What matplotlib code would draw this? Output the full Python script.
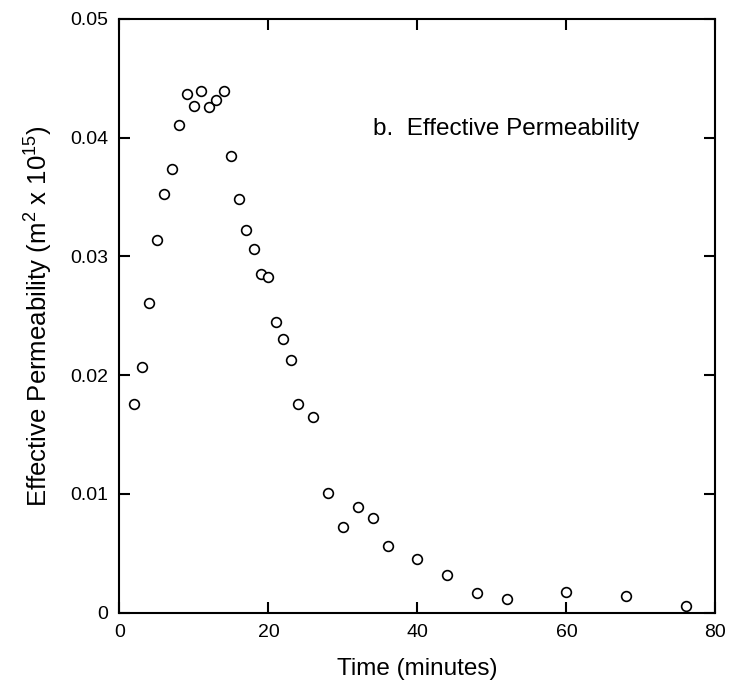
import matplotlib
matplotlib.use("Agg")
import matplotlib.pyplot as plt

plt.rcParams['font.family'] = ['Liberation Sans', 'DejaVu Sans']
plt.rcParams['mathtext.fontset'] = 'custom'
plt.rcParams['mathtext.rm'] = 'Liberation Sans'
plt.rcParams['mathtext.it'] = 'Liberation Sans'

time_min = [2, 3, 4, 5, 6, 7, 8, 9, 10, 11, 12, 13, 14, 15, 16, 17, 18, 19, 20,
            21, 22, 23, 24, 26, 28, 30, 32, 34, 36, 40, 44, 48, 52, 60, 68, 76]
permeability = [0.01755, 0.02072, 0.02611, 0.03139, 0.03526, 0.03737, 0.04105,
                0.04366, 0.04267, 0.04391, 0.04256, 0.04315, 0.04396, 0.03846,
                0.03484, 0.03220, 0.03059, 0.02850, 0.02825, 0.02451, 0.02305,
                0.02126, 0.01755, 0.01648, 0.01010, 0.00724, 0.00888, 0.00798,
                0.00562, 0.00452, 0.00315, 0.00168, 0.00118, 0.00177, 0.00143,
                0.00056]
x_ticks = [0, 20, 40, 60, 80]
y_ticks = [0, 0.01, 0.02, 0.03, 0.04, 0.05]
y_tick_labels = ['0', '0.01', '0.02', '0.03', '0.04', '0.05']

fig = plt.figure(figsize=(7.33, 6.85), dpi=100)
ax = fig.add_axes([0.163, 0.1055, 0.813, 0.867])

ax.plot(time_min, permeability, linestyle='none', marker='o', markersize=7,
        markerfacecolor='white', markeredgecolor='black', markeredgewidth=1.2)

ax.set_xlim(0, 80)
ax.set_ylim(0, 0.05)
ax.set_xticks(x_ticks)
ax.set_xticklabels([str(t) for t in x_ticks])
ax.set_yticks(y_ticks)
ax.set_yticklabels(y_tick_labels)

ax.tick_params(direction='in', length=8, width=1.5, top=True, right=True,
               labelsize=14, pad=8)
for s in ax.spines.values():
    s.set_linewidth(1.5)

ax.set_xlabel('Time (minutes)', fontsize=17.5, labelpad=12)
ax.set_ylabel('Effective Permeability (m$^2$ x 10$^{15}$)', fontsize=18.5, labelpad=11)

ax.text(34.0, 0.0407, 'b.  Effective Permeability', fontsize=17.5, va='center', ha='left')

fig.savefig('out.png', dpi=100)
